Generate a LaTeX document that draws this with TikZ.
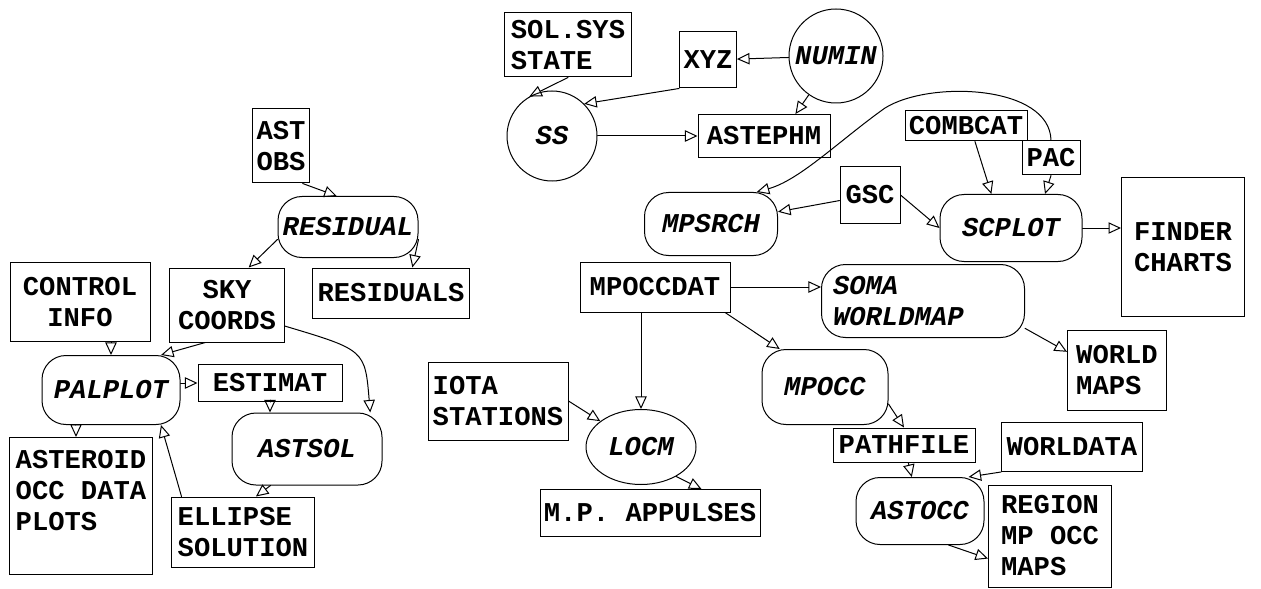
\documentclass[tikz,border=0pt]{standalone}
\usepackage{fontspec}
\setmainfont{Liberation Mono}
\usetikzlibrary{arrows.meta,shapes.geometric}

\begin{document}
\begin{tikzpicture}[x=0.5pt,y=-0.5pt]
\tikzset{
  procnode/.style={draw=black,line width=0.5pt,rounded corners=12pt,inner sep=1pt,align=center,font=\bfseries\itshape\fontsize{13.6}{15.5}\selectfont},
  bubblenode/.style={procnode,circle},
  ovalnode/.style={procnode,ellipse},
  storenode/.style={draw=black,line width=0.5pt,inner sep=1pt,align=left,font=\bfseries\fontsize{13.6}{15.5}\selectfont},
  flowedge/.style={draw=black,line width=0.5pt,line cap=round,line join=round,-{Triangle[open,length=2.2mm,width=2mm]}}
}
\useasboundingbox (0,0) rectangle (1261,588);
% processes
\node[bubblenode,minimum size=47pt] (n_numin) at (836,56) {NUMIN};
\node[bubblenode,minimum size=45pt] (n_ss) at (552,136) {SS};
\node[procnode,minimum width=70pt,minimum height=30.5pt] (n_residual) at (348,227) {RESIDUAL};
\node[procnode,minimum width=69pt,minimum height=34.5pt] (n_palplot) at (111,390) {PALPLOT};
\node[procnode,minimum width=75pt,minimum height=36pt] (n_astsol) at (307,449) {ASTSOL};
\node[procnode,minimum width=66.5pt,minimum height=31.5pt] (n_mpsrch) at (711,224) {MPSRCH};
\node[procnode,minimum width=71pt,minimum height=33.5pt] (n_scplot) at (1011,228) {SCPLOT};
\node[procnode,minimum width=101.5pt,minimum height=36.5pt,text width=90pt,align=left] (n_soma) at (923,301) {SOMA\\WORLDMAP};
\node[procnode,minimum width=63pt,minimum height=37.5pt] (n_mpocc) at (825,387) {MPOCC};
\node[ovalnode,minimum width=55pt,minimum height=37.5pt] (n_locm) at (641,447) {LOCM};
\node[procnode,minimum width=64pt,minimum height=33.5pt] (n_astocc) at (920,511) {ASTOCC};
% data stores
\node[storenode,minimum width=63.5pt,minimum height=32pt] (n_solsys) at (568,45) {SOL.SYS\\STATE};
\node[storenode,minimum width=28.5pt,minimum height=28pt] (n_xyz) at (708,60) {XYZ};
\node[storenode,minimum width=28.5pt,minimum height=37pt] (n_ast) at (281,146) {AST\\OBS};
\node[storenode,minimum width=70pt,minimum height=39.5pt,align=center] (n_control) at (80,302) {CONTROL\\INFO};
\node[storenode,minimum width=57.5pt,minimum height=37pt,align=center] (n_sky) at (227,305) {SKY\\COORDS};
\node[storenode,minimum width=78.5pt,minimum height=25pt] (n_residuals) at (391,293) {RESIDUALS};
\node[storenode,minimum width=72pt,minimum height=18.5pt] (n_estimat) at (270,383) {ESTIMAT};
\node[storenode,minimum width=71.5pt,minimum height=68.5pt] (n_asteroid) at (81,506) {ASTEROID\\OCC DATA\\PLOTS\\\mbox{}};
\node[storenode,minimum width=71.5pt,minimum height=35pt] (n_ellipse) at (243,532) {ELLIPSE\\SOLUTION};
\node[storenode,minimum width=66pt,minimum height=21.5pt] (n_astephm) at (764,136) {ASTEPHM};
\node[storenode,minimum width=30pt,minimum height=28pt] (n_gsc) at (870,195) {GSC};
\node[storenode,minimum width=61pt,minimum height=15pt] (n_combcat) at (966,126) {COMBCAT};
\node[storenode,minimum width=29pt,minimum height=17pt] (n_pac) at (1051,158) {PAC};
\node[storenode,minimum width=61.5pt,minimum height=69.5pt] (n_finder) at (1183,247) {FINDER\\CHARTS};
\node[storenode,minimum width=75pt,minimum height=25pt] (n_mpoccdat) at (655,287) {MPOCCDAT};
\node[storenode,minimum width=70pt,minimum height=39pt] (n_iota) at (498,401) {IOTA\\STATIONS};
\node[storenode,minimum width=110pt,minimum height=23.5pt] (n_appulses) at (650,513) {M.P. APPULSES};
\node[storenode,minimum width=49.5pt,minimum height=40pt] (n_worldmaps) at (1117,370) {WORLD\\MAPS};
\node[storenode,minimum width=71pt,minimum height=17pt] (n_pathfile) at (904,445) {PATHFILE};
\node[storenode,minimum width=70.5pt,minimum height=24.5pt] (n_worldata) at (1072,447) {WORLDATA};
\node[storenode,minimum width=61.5pt,minimum height=51pt] (n_region) at (1050,536) {REGION\\MP OCC\\MAPS};
% flows
\draw[flowedge] (n_solsys.south) -- (n_ss.120);
\draw[flowedge] (n_xyz.south west) -- (n_ss.45);
\draw[flowedge] (n_numin) -- (n_xyz);
\draw[flowedge] (n_numin.235) -- (n_astephm.35);
\draw[flowedge] (n_ss) -- (n_astephm);
\draw[flowedge] (n_pac.north) .. controls (1050,85) and (930,80) .. (885,108)
  .. controls (840,140) and (800,180) .. (n_mpsrch.35);
\draw[flowedge] (n_gsc) -- (n_mpsrch);
\draw[flowedge] (n_gsc.east) -- (n_scplot.west);
\draw[flowedge] (n_combcat.300) -- (n_scplot.120);
\draw[flowedge] (n_pac.south) -- (n_scplot.45);
\draw[flowedge] (n_scplot.east) -- (n_scplot.east -| n_finder.west);
\draw[flowedge] (n_soma.-15) -- (n_worldmaps.160);
\draw[flowedge] (n_mpoccdat.east) -- (n_mpoccdat.east -| n_soma.west);
\draw[flowedge] (n_mpoccdat.-20) -- (n_mpocc.140);
\draw[flowedge] (n_mpoccdat.south -| n_locm.north) -- (n_locm.north);
\draw[flowedge] (n_iota.east) -- (n_locm);
\draw[flowedge] (n_locm.-40) -- (n_appulses.25);
\draw[flowedge] (n_mpocc.-15) -- (n_pathfile.north);
\draw[flowedge] (n_pathfile) -- (n_astocc);
\draw[flowedge] (n_worldata.south west) -- (n_astocc.35);
\draw[flowedge] (n_astocc.-50) -- (n_region.200);
\draw[flowedge] (n_ast.-60) -- (n_residual.110);
\draw[flowedge] (n_residual.190) -- (n_sky.60);
\draw[flowedge] (n_residual.-10) -- (n_residuals.50);
\draw[flowedge] (n_control.south -| n_palplot.north) -- (n_palplot.north);
\draw[flowedge] (n_sky.240) -- (n_palplot.35);
\draw[flowedge] (n_sky.-20) .. controls (365,350) .. (n_astsol.30);
\draw[flowedge] (n_palplot.east |- n_estimat.west) -- (n_estimat.west);
\draw[flowedge] (n_estimat.south) -- (n_estimat.south |- n_astsol.north);
\draw[flowedge] (n_astsol.225) -- (n_ellipse.70);
\draw[flowedge] (n_ellipse.150) -- (n_palplot.-35);
\draw[flowedge] (n_palplot.225) -- (n_palplot.225 |- n_asteroid.north);
\end{tikzpicture}
\end{document}
